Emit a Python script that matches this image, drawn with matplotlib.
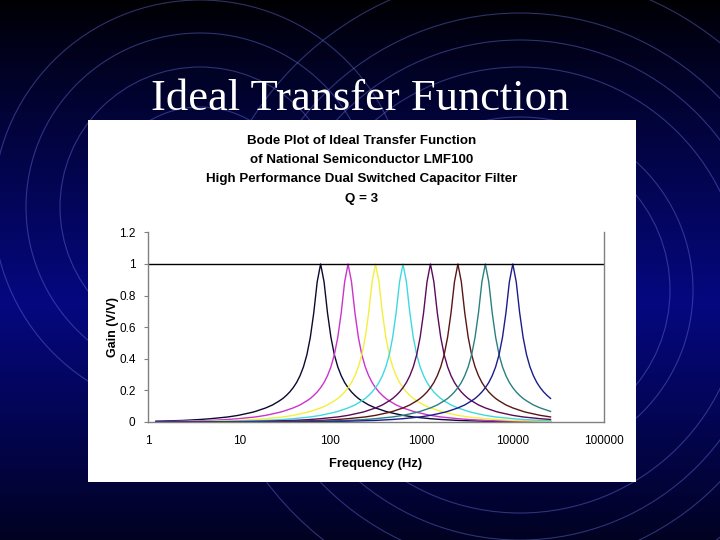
import numpy as np
import matplotlib
matplotlib.use("Agg")
import matplotlib.pyplot as plt
from matplotlib.patches import Circle, Rectangle
from matplotlib.ticker import FixedLocator, FixedFormatter, NullLocator

# Datos

slide_title = "Ideal Transfer Function"
chart_title = ("Bode Plot of Ideal Transfer Function\n"
               "of National Semiconductor LMF100\n"
               "High Performance Dual Switched Capacitor Filter\n"
               "Q = 3")

# frecuencias centrales de cada filtro (Hz)
center_freqs = [78.125, 156.25, 312.5, 625, 1250, 2500, 5000, 10000]
curve_colors = ["#0a0a30", "#cc33cc", "#f2f03c", "#3fd8e0",
                "#5c0a5c", "#5a1616", "#2a8080", "#1c1c8c"]

# forma de la curva: distancia en octavas al centro -> ganancia (V/V), simetrica
oct_offsets = [0, 0.125, 0.25, 0.375, 0.5, 0.625, 0.75, 0.875, 1, 1.125, 1.25,
               1.375, 1.5, 1.75, 2, 2.375, 2.5, 3, 3.375, 4, 4.375, 5, 5.375,
               6, 6.375, 7, 7.375, 8, 8.375, 9, 10, 11, 12, 13, 14]
shape_gain = [1.0, 0.887, 0.691, 0.536, 0.426, 0.349, 0.293, 0.250, 0.217,
              0.190, 0.168, 0.149, 0.134, 0.108, 0.089, 0.067, 0.061, 0.042,
              0.032, 0.021, 0.016, 0.010, 0.008, 0.005, 0.004, 0.003, 0.002,
              0.0013, 0.001, 0.0007, 0.0003, 0.0002, 0.0001, 0.00004, 0.00002]
freq_start = 1
freq_end = 26000

# serie de ganancia unitaria
unity_freq = [1, 100000]
unity_gain = [1, 1]

x_ticks = [1, 10, 100, 1000, 10000, 100000]
x_tick_labels = ["1", "10", "100", "1000", "10000", "100000"]
y_ticks = [0, 0.2, 0.4, 0.6, 0.8, 1, 1.2]
y_tick_labels = ["0", "0.2", "0.4", "0.6", "0.8", "1", "1.2"]

# Figura

fig = plt.figure(figsize=(7.2, 5.4), dpi=100)

# fondo de la diapositiva
bg = fig.add_axes([0, 0, 1, 1])
bg.set_xlim(0, 720)
bg.set_ylim(540, 0)
bg.axis("off")
yy = np.linspace(0, 1, 300)
peak = np.clip(1 - np.abs(yy - 0.56) / 0.56, 0, 1) ** 0.9
grad = np.zeros((300, 1, 3))
grad[:, 0, 2] = 0.01 + 0.49 * peak
grad[:, 0, 1] = 0.0 + 0.03 * peak
grad[:, 0, 0] = 0.0 + 0.02 * peak
bg.imshow(grad, extent=[0, 720, 540, 0], aspect="auto", zorder=0)

# arcos decorativos
for cx, cy, radii in [(200, 207, [207, 174, 140, 100]),
                      (520, 290, [318, 277, 250, 223, 173, 150])]:
    for r in radii:
        bg.add_patch(Circle((cx, cy), r, fill=False, ec="#5a64c8",
                            lw=0.8, alpha=0.5, zorder=1))

bg.add_patch(Rectangle((88, 120), 548, 362, fc="white", ec="none", zorder=2))
bg.text(360, 110, slide_title, color="white", fontsize=32,
        family="Liberation Serif", ha="center", va="baseline", zorder=3)
bg.text(362, 135, chart_title, fontsize=9.6, fontweight="bold",
        family="Liberation Sans", ha="center", va="top",
        linespacing=1.8, zorder=3)

# grafico
ax = fig.add_axes([148 / 720, (540 - 422) / 540, 456 / 720, (422 - 232.4) / 540])
ax.set_facecolor("none")
ax.set_xscale("log")

half = np.array(oct_offsets)
g = np.array(shape_gain)
offs = np.concatenate([-half[::-1], half[1:]])
gains = np.concatenate([g[::-1], g[1:]])

for f0, col in zip(center_freqs, curve_colors):
    freqs = f0 * 2.0 ** offs
    keep = (freqs >= freq_start) & (freqs <= freq_end)
    ax.plot(freqs[keep], gains[keep], color=col, lw=1.0)

ax.plot(unity_freq, unity_gain, color="black", lw=1.0)

ax.set_xlim(1, 100000)
ax.set_ylim(0, 1.2)
ax.xaxis.set_major_locator(FixedLocator(x_ticks))
ax.xaxis.set_major_formatter(FixedFormatter(x_tick_labels))
ax.xaxis.set_minor_locator(NullLocator())
ax.set_yticks(y_ticks)
ax.set_yticklabels(y_tick_labels)

for lbl in ax.get_xticklabels() + ax.get_yticklabels():
    lbl.set_family("Liberation Sans")
    lbl.set_fontsize(8.5)
ax.tick_params(axis="x", length=0, pad=9)
ax.tick_params(axis="y", length=3, width=0.8, color="#808080", pad=6)

ax.spines["top"].set_visible(False)
for s in ["left", "right", "bottom"]:
    ax.spines[s].set_color("#808080")
    ax.spines[s].set_linewidth(1.0)

ax.set_xlabel("Frequency (Hz)", fontsize=9.3, fontweight="bold",
              family="Liberation Sans", labelpad=8)
ax.set_ylabel("Gain (V/V)", fontsize=9, fontweight="bold",
              family="Liberation Sans", labelpad=0)

fig.savefig("out.png", dpi=100)
